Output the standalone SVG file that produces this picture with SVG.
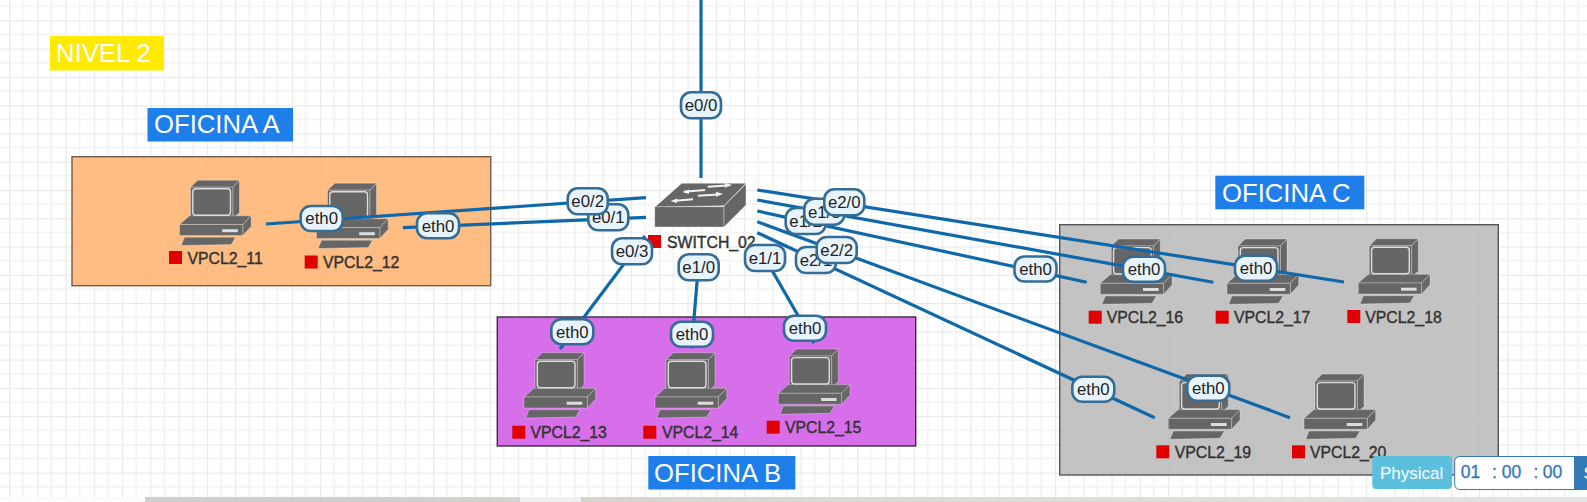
<svg xmlns="http://www.w3.org/2000/svg" xmlns:xlink="http://www.w3.org/1999/xlink" width="1587" height="502" viewBox="0 0 1587 502">
<style>
text{font-family:"Liberation Sans",Arial,sans-serif}
.title{font-size:25.7px;fill:#fff}
.nm{font-size:15.8px;fill:#333;stroke:#333;stroke-width:.4}
.red{fill:#e00000}
.cn line{stroke:#0f68a9;stroke-width:3.2}
.lb rect{fill:#e8f4fd;stroke:#356d96;stroke-width:2.6}
.lb text{font-size:16.8px;fill:#222;text-anchor:middle}
.tm{font-size:17.5px;fill:#337ab7;stroke:#337ab7;stroke-width:.35}
</style>
<defs>
<pattern id="grid" patternUnits="userSpaceOnUse" x="9" y="20.3" width="28.27" height="28.27">
<path d="M14.13 0V28.27M0 14.13H28.27" stroke="#f1f1f1" stroke-width="1.5" fill="none"/>
<path d="M0 0V28.27M0 0H28.27" stroke="#e9e9e9" stroke-width="2.4" fill="none"/>
</pattern>
<linearGradient id="strip" x1="0" x2="1" y1="0" y2="0">
<stop offset="0" stop-color="#d0d0d0"/><stop offset=".25" stop-color="#d0d0d0"/><stop offset=".4" stop-color="#d8d6cc"/><stop offset=".75" stop-color="#dde0da"/><stop offset="1" stop-color="#e4e4e4"/>
</linearGradient>
<g id="pc">
<g fill="#666" stroke="#fff" stroke-opacity=".3" stroke-width="1">
<path d="M11 7.7L18.3 .7H60L53.3 7.7Z"/>
<path d="M53.3 7.7L60 1V33.3L53.3 39Z"/>
<rect x="11" y="7.7" width="42.3" height="30.8"/>
<path d="M0 45L10 36.3H71.7L63.3 45Z"/>
<path d="M63.3 45L71.7 36.3V46.7L63.3 56Z"/>
<rect x="0" y="45" width="63.3" height="11"/>
<path d="M5 57.7H56L51.7 65L1.7 66Z"/>
</g>
<rect x="13.3" y="9.3" width="37.7" height="26.4" rx="3" fill="#666" stroke="#ddd" stroke-width="1.4"/>
<rect x="42.7" y="49.7" width="15.6" height="3" fill="#ddd"/>
</g>
</defs>

<rect width="1587" height="502" fill="#fff"/>
<rect width="1587" height="502" fill="url(#grid)"/>

<g id="areas">
<rect x="72" y="156.7" width="418.7" height="129" fill="#ffb676" fill-opacity=".9" stroke="#6e5c4c" stroke-width="1.4"/>
<rect x="497.3" y="317" width="418.4" height="129" fill="#d463e8" fill-opacity=".92" stroke="#3a2c40" stroke-width="1.4"/>
<rect x="1059.7" y="224.7" width="438.6" height="250.3" fill="#bdbdbd" fill-opacity=".9" stroke="#555" stroke-width="1.4"/>
</g>

<g id="title-nivel"><rect x="50" y="36" width="114" height="34.5" fill="#ffea00"/><text class="title" x="56" y="61.5">NIVEL 2</text></g>
<g id="title-a"><rect x="147.5" y="108" width="145.5" height="33.5" fill="#1e7eea"/><text class="title" x="154" y="133.3">OFICINA A</text></g>
<g id="title-b"><rect x="648.3" y="456" width="147" height="33.5" fill="#1e7eea"/><text class="title" x="654" y="481.5">OFICINA B</text></g>
<g id="title-c"><rect x="1215.3" y="175.7" width="149" height="33.6" fill="#1e7eea"/><text class="title" x="1222" y="201.5">OFICINA C</text></g>

<g id="SWITCH_02">
<path d="M655 207L681.7 183.3H746L724 205.7Z" fill="#666" stroke="#fff" stroke-opacity=".35"/>
<rect x="654.7" y="206.7" width="69.3" height="20.3" fill="#666" stroke="#fff" stroke-opacity=".35"/>
<path d="M724 206L746 184V205L724 227Z" fill="#666" stroke="#fff" stroke-opacity=".35"/>
<path d="M707.7 186.7L727 185.5M684 191.7L705 190M698 195.7L718 194.5M675 200.7L693 199.3" stroke="#f2f2f2" stroke-width="2" fill="none"/>
<path d="M732 185L725 182.8V187.8ZM682.5 192L689 189.5V194ZM723 194L716 191.8V196.8ZM670.5 201L677 198.5V203Z" fill="#f2f2f2"/>
<rect class="red" x="648" y="235" width="13" height="13"/>
<text class="nm" x="667" y="247.5">SWITCH_02</text>
</g>

<g id="VPCL2_11"><use xlink:href="#pc" href="#pc" x="179.5" y="179.5"/><rect class="red" x="169" y="251" width="13" height="13"/><text class="nm" x="187.5" y="264">VPCL2_11</text></g>
<g id="VPCL2_12"><use xlink:href="#pc" href="#pc" x="316.5" y="182.5"/><rect class="red" x="304.7" y="255.5" width="13" height="13"/><text class="nm" x="323" y="268">VPCL2_12</text></g>
<g id="VPCL2_13"><use xlink:href="#pc" href="#pc" x="524" y="352"/><rect class="red" x="512.3" y="425.7" width="13" height="13"/><text class="nm" x="530.5" y="438.3">VPCL2_13</text></g>
<g id="VPCL2_14"><use xlink:href="#pc" href="#pc" x="655" y="352"/><rect class="red" x="643.3" y="425.7" width="13" height="13"/><text class="nm" x="662" y="438.3">VPCL2_14</text></g>
<g id="VPCL2_15"><use xlink:href="#pc" href="#pc" x="778.3" y="348.3"/><rect class="red" x="766.7" y="420.7" width="13" height="13"/><text class="nm" x="785" y="433.3">VPCL2_15</text></g>
<g id="VPCL2_16"><use xlink:href="#pc" href="#pc" x="1100.3" y="238.3"/><rect class="red" x="1088.7" y="310.7" width="13" height="13"/><text class="nm" x="1106.7" y="323.3">VPCL2_16</text></g>
<g id="VPCL2_17"><use xlink:href="#pc" href="#pc" x="1227" y="238.3"/><rect class="red" x="1215.7" y="310.7" width="13" height="13"/><text class="nm" x="1234" y="323.3">VPCL2_17</text></g>
<g id="VPCL2_18"><use xlink:href="#pc" href="#pc" x="1358.3" y="238"/><rect class="red" x="1347.3" y="310" width="13" height="13"/><text class="nm" x="1365.3" y="323">VPCL2_18</text></g>
<g id="VPCL2_19"><use xlink:href="#pc" href="#pc" x="1168.3" y="373.3"/><rect class="red" x="1156.3" y="445.3" width="13" height="13"/><text class="nm" x="1174.7" y="458">VPCL2_19</text></g>
<g id="VPCL2_20"><use xlink:href="#pc" href="#pc" x="1304" y="373.3"/><rect class="red" x="1292" y="445.3" width="13" height="13"/><text class="nm" x="1310" y="458">VPCL2_20</text></g>

<g id="connectors" class="cn">
<line x1="701" y1="0" x2="701" y2="178"/>
<line x1="646" y1="217.3" x2="403" y2="227.7"/>
<line x1="646" y1="197.7" x2="266" y2="224"/>
<line x1="645" y1="236" x2="560" y2="349"/>
<line x1="698.7" y1="262" x2="691.5" y2="348.3"/>
<line x1="762" y1="253" x2="814" y2="343.3"/>
<line x1="757.3" y1="232.7" x2="1154.7" y2="417.7"/>
<line x1="757.3" y1="221.7" x2="1290" y2="417.7"/>
<line x1="757.3" y1="211" x2="1086.7" y2="282.3"/>
<line x1="757.3" y1="200" x2="1213.3" y2="282.3"/>
<line x1="757.3" y1="190" x2="1344" y2="282"/>
</g>

<g id="connector-labels" class="lb">
<g><rect x="681" y="92.3" width="40" height="26" rx="10"/><text x="701" y="111">e0/0</text></g>
<g><rect x="588.3" y="204.3" width="40" height="26" rx="10"/><text x="608.3" y="223">e0/1</text></g>
<g><rect x="567.7" y="188.3" width="40" height="26" rx="10"/><text x="587.7" y="207">e0/2</text></g>
<g><rect x="612" y="238.3" width="40" height="26" rx="10"/><text x="632" y="257">e0/3</text></g>
<g><rect x="678.7" y="254.3" width="40" height="26" rx="10"/><text x="698.7" y="273">e1/0</text></g>
<g><rect x="745" y="245" width="40" height="26" rx="10"/><text x="765" y="264">e1/1</text></g>
<g><rect x="796" y="247" width="40" height="26" rx="10"/><text x="816" y="266">e2/1</text></g>
<g><rect x="816.7" y="237" width="40" height="26" rx="10"/><text x="836.7" y="256">e2/2</text></g>
<g><rect x="785.7" y="208" width="40" height="26" rx="10"/><text x="805.7" y="227">e1/2</text></g>
<g><rect x="804.3" y="198.7" width="40" height="26" rx="10"/><text x="824.3" y="217.7">e1/3</text></g>
<g><rect x="824.3" y="189.3" width="40" height="26" rx="10"/><text x="844.3" y="208.3">e2/0</text></g>
<g><rect x="300.7" y="206" width="42" height="25" rx="10"/><text x="321.7" y="224.3">eth0</text></g>
<g><rect x="417" y="213.2" width="42" height="25" rx="10"/><text x="438" y="231.5">eth0</text></g>
<g><rect x="551.3" y="319.2" width="42" height="25" rx="10"/><text x="572.3" y="337.5">eth0</text></g>
<g><rect x="671" y="321.8" width="42" height="25" rx="10"/><text x="692" y="340">eth0</text></g>
<g><rect x="784" y="315.8" width="42" height="25" rx="10"/><text x="805" y="334">eth0</text></g>
<g><rect x="1014.5" y="256.5" width="42" height="25" rx="10"/><text x="1035.5" y="275">eth0</text></g>
<g><rect x="1123" y="256.8" width="42" height="25" rx="10"/><text x="1144" y="275">eth0</text></g>
<g><rect x="1235" y="255.8" width="42" height="25" rx="10"/><text x="1256" y="274">eth0</text></g>
<g><rect x="1072.3" y="376.8" width="42" height="25" rx="10"/><text x="1093.3" y="395">eth0</text></g>
<g><rect x="1187.3" y="375.8" width="42" height="25" rx="10"/><text x="1208.3" y="394">eth0</text></g>
</g>

<g id="bottom-strip">
<rect x="0" y="497" width="1587" height="5" fill="url(#strip)"/>
<rect x="0" y="497" width="145" height="5" fill="#fbfbfb"/>
<rect x="520" y="497" width="61" height="5" fill="#eeeeee"/>
</g>

<g id="status-bar">
<rect x="1372.3" y="456" width="79.7" height="33" rx="4" fill="#5bc0de"/>
<text x="1380" y="479" font-size="17" fill="#fff">Physical</text>
<rect x="1454.7" y="456.5" width="125" height="33" rx="5" fill="#fff" stroke="#337ab7" stroke-width="1"/>
<rect x="1574" y="456" width="13" height="34" fill="#337ab7"/>
<text x="1583.5" y="479" font-size="17" fill="#fff">S</text>
<text class="tm" x="1460.7" y="477.5">01</text>
<text class="tm" x="1492" y="477.5">:</text>
<text class="tm" x="1501.7" y="477.5">00</text>
<text class="tm" x="1533.5" y="477.5">:</text>
<text class="tm" x="1542.7" y="477.5">00</text>
</g>
</svg>
